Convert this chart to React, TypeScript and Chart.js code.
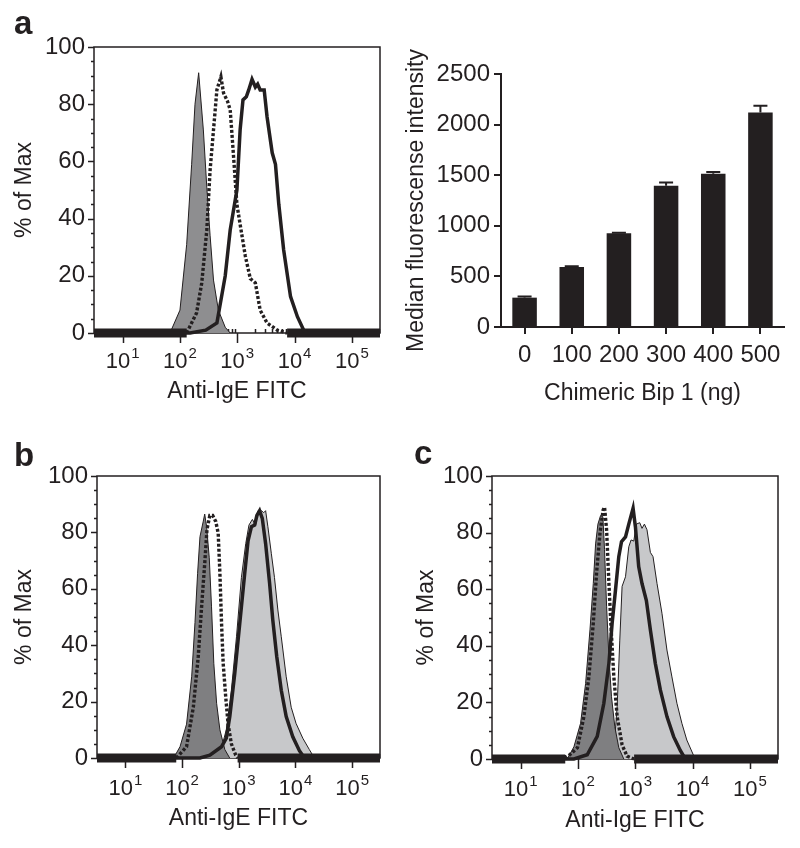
import React, { useEffect, useRef } from "react";
import { Chart, registerables } from "chart.js";

Chart.register(...registerables);

const INK = "#231f20";
const DARK_FILL_A = "#8e8e90";
const DARK_FILL = "#7f7f81";
const LIGHT_FILL = "#c7c8ca";
const FONT = '"Liberation Sans", Arial, Helvetica, sans-serif';

// ---------- shared histogram axis values ----------
const X_MIN = 3.16;
const X_MAX = 310000;
const DECADES = [10, 100, 1000, 10000, 100000];
const DECADE_BASE = "10";
const DECADE_EXPONENTS = ["1", "2", "3", "4", "5"];
const Y_TITLE = "% of Max";
const X_TITLE = "Anti-IgE FITC";

// ---------- panel a (histogram) ----------
const A_GRAY_X = [67, 100, 131, 160, 183, 212, 256, 294, 336, 385, 468, 617, 753];
const A_GRAY_Y = [0, 8, 31, 59, 80, 91, 71, 51, 34, 18.5, 8, 2, 0];

const A_DOT_X = [3.16, 131, 195, 240, 294, 336, 385, 441, 518, 575, 676, 753, 839, 986, 1122, 1380, 1690, 2070, 2512, 3311, 5012, 7413, 310000];
const A_DOT_Y = [0, 0, 7, 17.5, 36, 57, 71, 85, 89.6, 84, 81, 78, 65, 45, 38, 27, 19, 17.5, 8, 3.5, 1, 0, 0];

const A_SOL_X = [3.16, 150, 282, 441, 617, 753, 986, 1122, 1259, 1439, 1585, 1811, 2070, 2270, 2512, 2951, 3311, 4074, 4645, 5309, 6457, 8511, 11220, 14450, 16600, 310000];
const A_SOL_Y = [0, 0, 1, 3.5, 20, 36, 50, 71, 81.5, 82.6, 85, 88.7, 86, 87, 85, 85, 75.6, 63, 59, 45, 29, 12.7, 5.7, 1, 0, 0];

// ---------- panel a (bar chart) ----------
const BAR_CATEGORIES = ["0", "100", "200", "300", "400", "500"];
const BAR_VALUES = [290, 593, 926, 1395, 1515, 2120];
const BAR_ERRORS = [12, 8, 6, 33, 16, 66];
const BAR_Y_TITLE = "Median fluorescense intensity";
const BAR_X_TITLE = "Chimeric Bip 1 (ng)";

// ---------- panel b ----------
const B_DGRAY_X = [71, 92, 120, 148, 169, 188, 207, 237, 251, 271, 302, 331, 363, 407, 465, 568, 692];
const B_DGRAY_Y = [0, 4, 12, 29, 48, 65.5, 78.5, 84, 86.5, 82, 71, 53.6, 33.6, 19.4, 10, 3, 0];

const B_LGRAY_X = [380, 465, 603, 741, 912, 1114, 1327, 1514, 1738, 1986, 2188, 2512, 2754, 2979, 3266, 3750, 4266, 4898, 5623, 6871, 8414, 10233, 13490, 17580, 21530];
const B_LGRAY_Y = [0, 1.5, 10, 24, 43, 64, 76, 82.6, 84.6, 82.6, 87.7, 87.7, 87, 87.7, 82, 72.6, 64, 52.5, 43, 28.8, 18, 12.3, 7, 3, 0];

const B_DOT_X = [3.16, 79, 120, 158, 193, 221, 251, 275, 309, 347, 394, 434, 465, 497, 531, 589, 646, 741, 885, 955, 310000];
const B_DOT_Y = [0, 0, 4, 18, 36, 53.6, 69, 81, 86, 86, 83.8, 79.7, 65.5, 47.8, 33.6, 21.7, 12.3, 5, 1, 0, 0];

const B_SOL_X = [3.16, 207, 309, 497, 603, 695, 851, 1042, 1274, 1459, 1671, 1905, 2089, 2333, 2600, 2979, 3499, 3981, 4677, 5623, 6871, 8974, 11750, 14390, 310000];
const B_SOL_Y = [0, 0, 1, 4, 7, 14.7, 30, 47.8, 65.5, 77, 82, 82.6, 86, 87.7, 85, 76, 62, 49, 36, 24, 14.7, 7.5, 2.6, 0, 0];

// ---------- panel c ----------
const C_DGRAY_X = [65, 85, 111, 136, 162, 185, 203, 223, 248, 272, 291, 316, 347, 385, 440, 516, 631];
const C_DGRAY_Y = [0, 4.3, 12.6, 26.7, 45.6, 62, 76, 83, 86, 85.6, 74, 54, 36, 22, 11.4, 4, 0];

const C_LGRAY_X = [324, 423, 483, 537, 589, 676, 771, 845, 942, 1047, 1197, 1312, 1445, 1603, 1837, 2042, 2399, 2924, 3573, 4365, 5333, 6516, 7943, 10400, 11885];
const C_LGRAY_Y = [0, 3, 18.5, 42, 61, 64.4, 75, 77.4, 77, 83, 83.5, 81.5, 83, 81, 73, 71.5, 62, 51.5, 38.5, 29, 19.7, 12.6, 6.7, 1.3, 0];

const C_DOT_X = [3.16, 60, 98, 127, 155, 185, 211, 242, 275, 291, 316, 347, 380, 423, 483, 589, 719, 955, 310000];
const C_DOT_Y = [0, 0, 4, 15, 29, 48, 65.6, 79.7, 88, 89, 81, 62, 45.6, 29, 15, 5, 1, 0, 0];

const C_SOL_X = [3.16, 85, 145, 217, 283, 347, 395, 452, 516, 575, 676, 771, 916, 1007, 1148, 1312, 1563, 1837, 2239, 2742, 3573, 4677, 6109, 7464, 310000];
const C_SOL_Y = [0, 0, 1.5, 8, 19.7, 33.8, 48, 59.7, 71.5, 76.8, 78.5, 83, 88.6, 82, 68, 62, 56, 45.6, 33.8, 24.4, 15, 7.9, 3, 0, 0];

Chart.defaults.font.family = FONT;
Chart.defaults.color = INK;

const TICK_SIZE = 24;
const TITLE_SIZE = 23;

const pts = (xs: number[], ys: number[]) => xs.map((x, i) => ({ x, y: ys[i] }));

const zeroSeg = (ctx: any) => ctx.p0.parsed.y === 0 && ctx.p1.parsed.y === 0;

function fillSet(xs: number[], ys: number[], color: string, order: number) {
  return {
    data: pts(xs, ys),
    borderColor: INK,
    borderWidth: 1,
    backgroundColor: color,
    fill: "origin",
    pointRadius: 0,
    order,
  };
}

function solidSet(xs: number[], ys: number[], order: number) {
  return {
    data: pts(xs, ys),
    borderColor: INK,
    borderWidth: 3.5,
    fill: false,
    pointRadius: 0,
    clip: false,
    order,
  };
}

function dotSet(xs: number[], ys: number[], order: number) {
  return {
    data: pts(xs, ys),
    borderColor: INK,
    borderWidth: 3.4,
    borderDash: [3, 2],
    fill: false,
    pointRadius: 0,
    clip: false,
    order,
    segment: {
      borderWidth: (ctx: any) => (zeroSeg(ctx) ? 9 : 3.4),
      borderDash: (ctx: any) => (zeroSeg(ctx) ? [] : [3, 2]),
    },
  };
}

function makeHistAxesPlugin(labelOffset: number) {
  return {
    id: "histAxes",
    beforeDatasetsDraw(chart: any) {
      const { ctx, chartArea: a, scales } = chart;
      const x = scales.x;
      const y = scales.y;
      ctx.save();
      ctx.strokeStyle = INK;
      ctx.lineWidth = 1.5;
      ctx.strokeRect(a.left, a.top, a.right - a.left, a.bottom - a.top);
      ctx.beginPath();
      for (let e = 0; e <= 5; e++) {
        for (let k = 1; k <= 9; k++) {
          const v = k * Math.pow(10, e);
          if (v < x.min || v > x.max) continue;
          const px = Math.round(x.getPixelForValue(v)) + 0.5;
          if (k === 1) {
            ctx.moveTo(px, a.bottom);
            ctx.lineTo(px, a.bottom + 10);
          } else {
            ctx.moveTo(px, a.bottom);
            ctx.lineTo(px, a.bottom - 4);
          }
        }
      }
      for (let v = 0; v <= 100; v += 5) {
        const py = Math.round(y.getPixelForValue(v)) + 0.5;
        ctx.moveTo(a.left, py);
        ctx.lineTo(a.left - (v % 20 === 0 ? 6 : 3), py);
      }
      ctx.stroke();
      ctx.restore();
    },
    afterDraw(chart: any) {
      const { ctx, chartArea: a, scales } = chart;
      const x = scales.x;
      ctx.save();
      ctx.fillStyle = INK;
      ctx.textBaseline = "middle";
      ctx.textAlign = "left";
      DECADES.forEach((d, i) => {
        const px = x.getPixelForValue(d);
        const baseFont = `22px ${FONT}`;
        const expFont = `15px ${FONT}`;
        ctx.font = baseFont;
        const w1 = ctx.measureText(DECADE_BASE).width;
        ctx.font = expFont;
        const w2 = ctx.measureText(DECADE_EXPONENTS[i]).width;
        const total = w1 + 1 + w2;
        const left = px - total / 2;
        const cy = a.bottom + labelOffset;
        ctx.font = baseFont;
        ctx.fillText(DECADE_BASE, left, cy);
        ctx.font = expFont;
        ctx.fillText(DECADE_EXPONENTS[i], left + w1 + 1, cy - 8);
      });
      ctx.restore();
    },
  };
}

const errorBarPlugin = {
  id: "errorBars",
  afterDatasetsDraw(chart: any) {
    const { ctx, scales } = chart;
    const meta = chart.getDatasetMeta(0);
    ctx.save();
    ctx.strokeStyle = INK;
    ctx.lineWidth = 2;
    meta.data.forEach((bar: any, i: number) => {
      const top = scales.y.getPixelForValue(BAR_VALUES[i]);
      const end = scales.y.getPixelForValue(BAR_VALUES[i] + BAR_ERRORS[i]);
      ctx.beginPath();
      ctx.moveTo(bar.x, top);
      ctx.lineTo(bar.x, end);
      ctx.moveTo(bar.x - 7, end);
      ctx.lineTo(bar.x + 7, end);
      ctx.stroke();
    });
    ctx.restore();
  },
};

type Box = { left: number; top: number; width: number; height: number };
type Area = { left: number; right: number; top: number; bottom: number };

function histConfig(
  box: Box,
  area: Area,
  datasets: any[],
  labelOffset: number,
  yTitlePad: number,
  xTitlePad: number
) {
  return {
    type: "line",
    data: { datasets },
    plugins: [makeHistAxesPlugin(labelOffset)],
    options: {
      animation: false,
      responsive: false,
      events: [],
      layout: {
        padding: {
          left: 0,
          top: area.top - box.top,
          right: box.left + box.width - area.right,
          bottom: 0,
        },
      },
      plugins: { legend: { display: false }, tooltip: { enabled: false } },
      scales: {
        x: {
          type: "logarithmic",
          min: X_MIN,
          max: X_MAX,
          grid: { display: false, drawTicks: false },
          border: { display: false },
          ticks: { display: false },
          title: {
            display: true,
            text: X_TITLE,
            font: { size: TITLE_SIZE },
            color: INK,
            padding: { top: 0, bottom: xTitlePad },
          },
          afterFit: (s: any) => {
            s.height = box.top + box.height - area.bottom;
          },
        },
        y: {
          type: "linear",
          min: 0,
          max: 100,
          grid: { display: false, drawTicks: false },
          border: { display: false },
          ticks: { stepSize: 20, padding: 9, font: { size: TICK_SIZE }, color: INK },
          title: {
            display: true,
            text: Y_TITLE,
            font: { size: TITLE_SIZE },
            color: INK,
            padding: { top: yTitlePad, bottom: 0 },
          },
          afterFit: (s: any) => {
            s.width = area.left - box.left;
          },
        },
      },
    },
  };
}

function barConfig(box: Box, area: Area) {
  return {
    type: "bar",
    data: {
      labels: BAR_CATEGORIES,
      datasets: [
        {
          data: BAR_VALUES,
          backgroundColor: INK,
          borderWidth: 0,
          categoryPercentage: 1,
          barPercentage: 0.52,
        },
      ],
    },
    plugins: [errorBarPlugin],
    options: {
      animation: false,
      responsive: false,
      events: [],
      layout: {
        padding: {
          left: 0,
          top: area.top - box.top,
          right: box.left + box.width - area.right,
          bottom: 0,
        },
      },
      plugins: { legend: { display: false }, tooltip: { enabled: false } },
      scales: {
        x: {
          type: "category",
          grid: {
            display: true,
            drawOnChartArea: false,
            offset: false,
            tickLength: 7,
            lineWidth: 2,
            color: INK,
          },
          border: { display: true, width: 2, color: INK },
          ticks: { padding: 7, font: { size: TICK_SIZE }, color: INK, maxRotation: 0 },
          title: {
            display: true,
            text: BAR_X_TITLE,
            font: { size: TITLE_SIZE },
            color: INK,
            padding: { top: 0, bottom: 13 },
          },
          afterFit: (s: any) => {
            s.height = box.top + box.height - area.bottom;
          },
        },
        y: {
          type: "linear",
          min: 0,
          max: 2500,
          grid: {
            display: true,
            drawOnChartArea: false,
            tickLength: 7,
            lineWidth: 2,
            color: INK,
          },
          border: { display: true, width: 2, color: INK },
          ticks: {
            stepSize: 500,
            padding: 4,
            font: { size: TICK_SIZE },
            color: INK,
            callback: (v: number) => String(v),
          },
          title: {
            display: true,
            text: BAR_Y_TITLE,
            font: { size: TITLE_SIZE },
            color: INK,
            padding: { top: 3, bottom: 0 },
          },
          afterFit: (s: any) => {
            s.width = area.left - box.left;
          },
        },
      },
    },
  };
}

function ChartCanvas({ box, makeConfig }: { box: Box; makeConfig: () => any }) {
  const ref = useRef<HTMLCanvasElement | null>(null);
  useEffect(() => {
    if (!ref.current) return;
    const chart = new Chart(ref.current, makeConfig());
    return () => chart.destroy();
  }, []);
  return (
    <canvas
      ref={ref}
      width={box.width}
      height={box.height}
      style={{
        position: "absolute",
        left: box.left,
        top: box.top,
        width: box.width,
        height: box.height,
      }}
    />
  );
}

const letterStyle = (left: number, top: number): React.CSSProperties => ({
  position: "absolute",
  left,
  top,
  fontFamily: FONT,
  fontWeight: "bold",
  fontSize: 33,
  lineHeight: "33px",
  color: INK,
});

export default function App() {
  const boxA: Box = { left: 0, top: 0, width: 400, height: 410 };
  const areaA: Area = { left: 94, right: 380, top: 47, bottom: 333 };
  const boxBar: Box = { left: 400, top: 0, width: 400, height: 420 };
  const areaBar: Area = { left: 501, right: 784, top: 74, bottom: 327 };
  const boxB: Box = { left: 0, top: 420, width: 400, height: 428 };
  const areaB: Area = { left: 97, right: 380, top: 476, bottom: 758 };
  const boxC: Box = { left: 400, top: 420, width: 400, height: 428 };
  const areaC: Area = { left: 492, right: 778, top: 476, bottom: 759 };

  return (
    <div
      style={{
        position: "absolute",
        left: 0,
        top: 0,
        width: 800,
        height: 848,
        background: "#ffffff",
        overflow: "hidden",
      }}
    >
      <ChartCanvas
        box={boxA}
        makeConfig={() =>
          histConfig(
            boxA,
            areaA,
            [
              solidSet(A_SOL_X, A_SOL_Y, 0),
              dotSet(A_DOT_X, A_DOT_Y, 1),
              fillSet(A_GRAY_X, A_GRAY_Y, DARK_FILL_A, 2),
            ],
            29,
            11,
            5
          )
        }
      />
      <ChartCanvas box={boxBar} makeConfig={() => barConfig(boxBar, areaBar)} />
      <ChartCanvas
        box={boxB}
        makeConfig={() =>
          histConfig(
            boxB,
            areaB,
            [
              solidSet(B_SOL_X, B_SOL_Y, 0),
              dotSet(B_DOT_X, B_DOT_Y, 1),
              fillSet(B_DGRAY_X, B_DGRAY_Y, DARK_FILL, 2),
              fillSet(B_LGRAY_X, B_LGRAY_Y, LIGHT_FILL, 3),
            ],
            31,
            11,
            16
          )
        }
      />
      <ChartCanvas
        box={boxC}
        makeConfig={() =>
          histConfig(
            boxC,
            areaC,
            [
              solidSet(C_SOL_X, C_SOL_Y, 0),
              dotSet(C_DOT_X, C_DOT_Y, 1),
              fillSet(C_DGRAY_X, C_DGRAY_Y, DARK_FILL, 2),
              fillSet(C_LGRAY_X, C_LGRAY_Y, LIGHT_FILL, 3),
            ],
            31,
            13,
            14
          )
        }
      />
      <div style={letterStyle(14, 6)}>a</div>
      <div style={letterStyle(14, 438)}>b</div>
      <div style={letterStyle(414, 436)}>c</div>
    </div>
  );
}
